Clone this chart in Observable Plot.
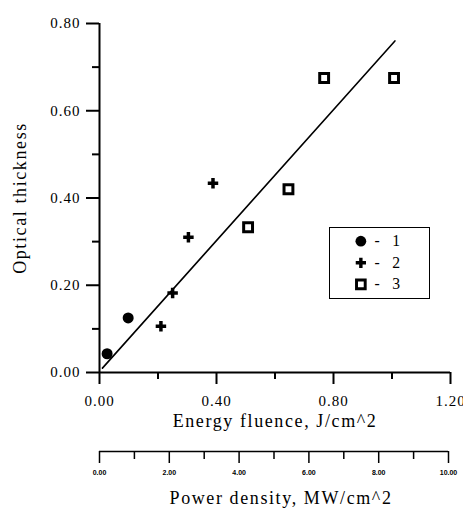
<!DOCTYPE html>
<html>
<head>
<meta charset="utf-8">
<script src="https://cdn.jsdelivr.net/npm/d3@7"></script>
<script src="https://cdn.jsdelivr.net/npm/@observablehq/plot@0.6"></script>
<style>
  html, body { margin: 0; padding: 0; background: white; }
  #wrap { position: relative; width: 463px; height: 508px; background: white; }
  #wrap svg { display: block; overflow: visible; }
  #legend { position: absolute; left: 329px; top: 227px; width: 101px; height: 72px; box-sizing: border-box; border: 1px solid black; background: white; }
  #legend svg { position: absolute; left: -1px; top: -1px; }
</style>
</head>
<body>
<div id="wrap"></div>
<script>
// ---- data ----
const series1X = [0.026, 0.098];
const series1Y = [0.043, 0.125];
const series2X = [0.21, 0.25, 0.304, 0.388];
const series2Y = [0.106, 0.182, 0.31, 0.434];
const series3X = [0.508, 0.646, 0.768, 1.007];
const series3Y = [0.333, 0.42, 0.675, 0.675];
const fitX = [0.01, 1.01];
const fitY = [0.01, 0.76];
const xMajor = [0, 0.4, 0.8, 1.2];
const xMinor = [0.2, 0.6, 1.0];
const yMajor = [0, 0.2, 0.4, 0.6, 0.8];
const yMinor = [0.1, 0.3, 0.5, 0.7];
const powerMajor = [0, 2, 4, 6, 8, 10];
const powerMinor = [1, 3, 5, 7, 9];
const legendSeries = ["1", "2", "3"];
const xTitle = "Energy fluence, J/cm^2";
const yTitle = "Optical thickness";
const powerTitle = "Power density, MW/cm^2";

const s1 = series1X.map((x, i) => ({x, y: series1Y[i]}));
const s2 = series2X.map((x, i) => ({x, y: series2Y[i]}));
const s3 = series3X.map((x, i) => ({x, y: series3Y[i]}));
const fit = fitX.map((x, i) => ({x, y: fitY[i]}));
const fmt = d3.format(".2f");

const serif = "'Liberation Serif', 'Times New Roman', serif";
const tickFont = {fontSize: 15};
const titleFont = {fontSize: 18, textAnchor: "middle", lineAnchor: "middle", className: "title"};

const main = Plot.plot({
  width: 463, height: 432,
  marginLeft: 99, marginRight: 13, marginTop: 23, marginBottom: 60,
  x: {domain: [0, 1.2]},
  y: {domain: [0, 0.8]},
  marks: [
    Plot.axisY(yMajor, {tickSize: 13, tickPadding: 6, tickFormat: fmt, strokeWidth: 2, label: null, ...tickFont}),
    Plot.axisY(yMinor, {tickSize: 7, tickFormat: () => "", strokeWidth: 2, label: null}),
    Plot.axisX(xMajor, {tickSize: 12, tickPadding: 11, tickFormat: fmt, strokeWidth: 2, label: null, ...tickFont}),
    Plot.axisX(xMinor, {tickSize: 7, tickFormat: () => "", strokeWidth: 2, label: null}),
    Plot.ruleX([0], {strokeWidth: 2}),
    Plot.ruleY([0], {strokeWidth: 2}),
    Plot.line(fit, {x: "x", y: "y", stroke: "black", strokeWidth: 1.6}),
    Plot.dot(s1, {x: "x", y: "y", r: 5.5, fill: "black", symbol: "circle"}),
    Plot.dot(s2, {x: "x", y: "y", r: 4.4, fill: "black", symbol: "cross"}),
    Plot.dot(s3, {x: "x", y: "y", r: 5, fill: "white", stroke: "black", strokeWidth: 3, symbol: "square"}),
    Plot.text([xTitle], {text: d => d, frameAnchor: "bottom", dy: 49, ...titleFont}),
    Plot.text([yTitle], {text: d => d, frameAnchor: "left", dx: -79, rotate: -90, ...titleFont})
  ]
});

const power = Plot.plot({
  width: 463, height: 76,
  marginLeft: 99, marginRight: 15, marginTop: 18, marginBottom: 57,
  x: {domain: [0, 10]},
  y: {domain: [0, 1], axis: null},
  marks: [
    Plot.axisX(powerMajor, {tickSize: 12, tickPadding: 7, tickFormat: fmt, strokeWidth: 1.5, label: null, fontSize: 7, fontWeight: "bold"}),
    Plot.axisX(powerMinor, {tickSize: 8, tickFormat: () => "", strokeWidth: 1.5, label: null}),
    Plot.ruleY([0], {strokeWidth: 1.5}),
    Plot.text([powerTitle], {text: d => d, frameAnchor: "bottom", dy: 47, dx: 7, ...titleFont})
  ]
});

const legend = Plot.plot({
  width: 101, height: 72,
  marginLeft: 0, marginRight: 0, marginTop: 14, marginBottom: 14,
  x: {axis: null},
  y: {type: "point", domain: legendSeries, axis: null, padding: 0},
  marks: [
    Plot.dot(legendSeries.slice(0, 1), {y: d => d, frameAnchor: "left", dx: 32, r: 5.5, fill: "black", symbol: "circle"}),
    Plot.dot(legendSeries.slice(1, 2), {y: d => d, frameAnchor: "left", dx: 32, r: 4.4, fill: "black", symbol: "cross"}),
    Plot.dot(legendSeries.slice(2, 3), {y: d => d, frameAnchor: "left", dx: 32, r: 5, fill: "white", stroke: "black", strokeWidth: 3, symbol: "square"}),
    Plot.text(legendSeries, {y: d => d, text: () => "-", frameAnchor: "left", dx: 46, fontSize: 16}),
    Plot.text(legendSeries, {y: d => d, text: d => d, frameAnchor: "left", dx: 64, fontSize: 16})
  ]
});

// fonts and wide letter spacing, as in the reference
d3.select(main).selectAll("text").style("font-family", serif).style("letter-spacing", "1px");
d3.select(main).selectAll(".title text").style("letter-spacing", "1.6px");
d3.select(power).selectAll(".title text").style("font-family", serif).style("letter-spacing", "1.6px");
d3.select(power).selectAll("text:not(.title text)").style("font-family", "'Liberation Sans', sans-serif");
d3.select(legend).selectAll("text").style("font-family", serif);

const wrap = document.getElementById("wrap");
wrap.appendChild(main);
wrap.appendChild(power);
const lg = document.createElement("div");
lg.id = "legend";
lg.appendChild(legend);
wrap.appendChild(lg);
</script>
</body>
</html>
